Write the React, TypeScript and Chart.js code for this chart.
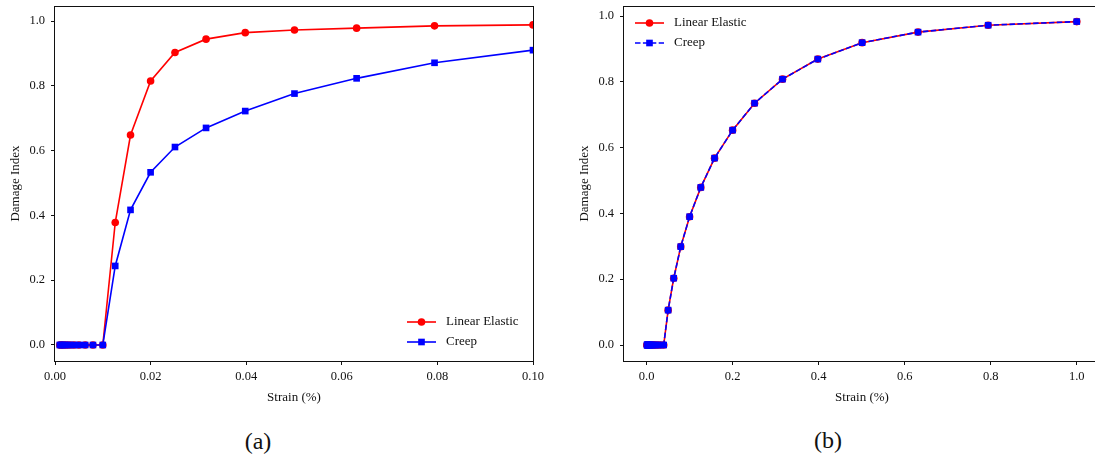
import React, { useEffect, useRef } from "react";
import { Chart, registerables } from "chart.js";

Chart.register(...registerables);

const SERIF = "'Liberation Serif', 'Times New Roman', Times, serif";
const INK = "#111";

// Panel (a): strain (%) against damage index
const strainA = [
  0.001, 0.00126, 0.00158, 0.002, 0.00251, 0.00316, 0.00398, 0.00501, 0.00631, 0.00794, 0.01,
  0.0126, 0.0158, 0.02, 0.0251, 0.0316, 0.0398, 0.0501, 0.0631, 0.0794, 0.1,
];
const linearElasticA = [
  0, 0, 0, 0, 0, 0, 0, 0, 0, 0, 0,
  0.378, 0.648, 0.815, 0.903, 0.944, 0.964, 0.972, 0.978, 0.985, 0.988,
];
const creepA = [
  0, 0, 0, 0, 0, 0, 0, 0, 0, 0, 0,
  0.244, 0.417, 0.533, 0.611, 0.67, 0.722, 0.776, 0.823, 0.871, 0.91,
];
const xTicksA = [0, 0.02, 0.04, 0.06, 0.08, 0.1];

// Panel (b): strain (%) against damage index
const strainB = [
  0.001, 0.00126, 0.00158, 0.002, 0.00251, 0.00316, 0.00398, 0.00501, 0.00631, 0.00794,
  0.01, 0.0126, 0.0158, 0.02, 0.0251, 0.0316, 0.0398, 0.0501, 0.0631, 0.0794,
  0.1, 0.126, 0.158, 0.2, 0.251, 0.316, 0.398, 0.501, 0.631, 0.794, 1.0,
];
const linearElasticB = [
  0, 0, 0, 0, 0, 0, 0, 0, 0, 0,
  0, 0, 0, 0, 0, 0, 0, 0.106, 0.203, 0.299,
  0.39, 0.479, 0.568, 0.653, 0.735, 0.808, 0.869, 0.919, 0.951, 0.972, 0.983,
];
const creepB = [
  0, 0, 0, 0, 0, 0, 0, 0, 0, 0,
  0, 0, 0, 0, 0, 0, 0, 0.106, 0.203, 0.299,
  0.39, 0.479, 0.568, 0.653, 0.735, 0.808, 0.869, 0.919, 0.951, 0.972, 0.983,
];
const xTicksB = [0, 0.2, 0.4, 0.6, 0.8, 1.0];

const yTicks = [0, 0.2, 0.4, 0.6, 0.8, 1.0];
const seriesNames = ["Linear Elastic", "Creep"];
const panelLabels = ["(a)", "(b)"];

function drawMarker(ctx: CanvasRenderingContext2D, style: string, r: number, x: number, y: number, color: string) {
  ctx.fillStyle = color;
  ctx.beginPath();
  if (style === "rect") {
    const h = Math.SQRT1_2 * r;
    ctx.rect(x - h, y - h, 2 * h, 2 * h);
  } else {
    ctx.arc(x, y, r, 0, Math.PI * 2);
  }
  ctx.fill();
}

// Legend drawn inside the plot area with line + marker samples
const markerLegend = {
  id: "markerLegend",
  afterDraw(chart: any, _args: any, opts: any) {
    const { ctx, chartArea } = chart;
    const x0 = opts.corner === "bottom-right" ? chartArea.right + opts.dx : chartArea.left + opts.dx;
    const y0 = opts.corner === "bottom-right" ? chartArea.bottom + opts.dy : chartArea.top + opts.dy;
    chart.data.datasets.forEach((ds: any, i: number) => {
      const y = y0 + i * opts.rowGap;
      ctx.save();
      ctx.strokeStyle = ds.borderColor;
      ctx.lineWidth = ds.borderWidth;
      ctx.setLineDash(ds.borderDash || []);
      ctx.beginPath();
      ctx.moveTo(x0, y);
      ctx.lineTo(x0 + opts.lineLen, y);
      ctx.stroke();
      ctx.setLineDash([]);
      drawMarker(ctx, ds.pointStyle, ds.pointRadius, x0 + opts.lineLen / 2, y, ds.pointBackgroundColor);
      ctx.fillStyle = INK;
      ctx.font = `13px ${SERIF}`;
      ctx.textBaseline = "middle";
      ctx.textAlign = "left";
      ctx.fillText(ds.label, x0 + opts.lineLen + opts.textGap, y);
      ctx.restore();
    });
  },
};

// Box around the plot area
const frame = {
  id: "frame",
  afterDatasetsDraw(chart: any) {
    const { ctx, chartArea } = chart;
    ctx.save();
    ctx.strokeStyle = INK;
    ctx.lineWidth = 1;
    const l = Math.floor(chartArea.left) - 0.5;
    const t = Math.floor(chartArea.top) + 0.5;
    const r = Math.floor(chartArea.right) + 0.5;
    const b = Math.floor(chartArea.bottom) + 0.5;
    ctx.strokeRect(l, t, r - l, b - t);
    ctx.restore();
  },
};

function series(xs: number[], ys: number[]) {
  return xs.map((x, i) => ({ x, y: ys[i] }));
}

type PanelSpec = {
  xs: number[];
  elastic: number[];
  creep: number[];
  xMin: number;
  xMax: number;
  xTicks: number[];
  xDigits: number;
  yMin: number;
  yMax: number;
  yAxisWidth: number;
  yTitlePad: number;
  padRight: number;
  creepDash: number[];
  legend: { corner: string; dx: number; dy: number };
};

function buildConfig(p: PanelSpec): any {
  const tickFont = { family: SERIF, size: 12.5 };
  const titleFont = { family: SERIF, size: 13 };
  return {
    type: "line",
    data: {
      datasets: [
        {
          label: seriesNames[0],
          data: series(p.xs, p.elastic),
          borderColor: "#ff0000",
          backgroundColor: "#ff0000",
          pointBackgroundColor: "#ff0000",
          borderWidth: 1.6,
          pointStyle: "circle",
          pointRadius: 3.8,
          pointBorderWidth: 0,
          order: 1,
          clip: 0,
        },
        {
          label: seriesNames[1],
          data: series(p.xs, p.creep),
          borderColor: "#0000ff",
          backgroundColor: "#0000ff",
          pointBackgroundColor: "#0000ff",
          borderWidth: 1.6,
          borderDash: p.creepDash,
          pointStyle: "rect",
          pointRadius: 4.7,
          pointBorderWidth: 0,
          order: 0,
          clip: 0,
        },
      ],
    },
    options: {
      responsive: false,
      animation: false,
      devicePixelRatio: 1,
      layout: { padding: { top: 6, right: p.padRight, left: 0, bottom: 0 } },
      plugins: {
        legend: { display: false },
        tooltip: { enabled: false },
        markerLegend: { ...p.legend, rowGap: 20, lineLen: 29, textGap: 10 },
      },
      scales: {
        x: {
          type: "linear",
          min: p.xMin,
          max: p.xMax,
          afterBuildTicks: (axis: any) => {
            axis.ticks = p.xTicks.map((v) => ({ value: v }));
          },
          afterFit: (axis: any) => {
            axis.height = 48;
            axis.paddingLeft = 0;
            axis.paddingRight = 0;
          },
          ticks: {
            autoSkip: false,
            maxRotation: 0,
            padding: 4,
            color: INK,
            font: tickFont,
            callback: (v: any) => Number(v).toFixed(p.xDigits),
          },
          grid: { display: true, drawOnChartArea: false, drawTicks: true, tickLength: 4, tickColor: INK, tickWidth: 1 },
          border: { display: false },
          title: { display: true, text: "Strain (%)", color: INK, font: titleFont, padding: { top: 4, bottom: 4 } },
        },
        y: {
          type: "linear",
          min: p.yMin,
          max: p.yMax,
          afterBuildTicks: (axis: any) => {
            axis.ticks = yTicks.map((v) => ({ value: v }));
          },
          afterFit: (axis: any) => {
            axis.width = p.yAxisWidth;
            axis.paddingTop = 0;
            axis.paddingBottom = 0;
          },
          ticks: {
            padding: 6,
            color: INK,
            font: tickFont,
            callback: (v: any) => Number(v).toFixed(1),
          },
          grid: { display: true, drawOnChartArea: false, drawTicks: true, tickLength: 4, tickColor: INK, tickWidth: 1 },
          border: { display: false },
          title: { display: true, text: "Damage Index", color: INK, font: titleFont, padding: { top: p.yTitlePad, bottom: 4 } },
        },
      },
    },
    plugins: [frame, markerLegend],
  };
}

function ChartPanel({ left, width, height, spec }: { left: number; width: number; height: number; spec: PanelSpec }) {
  const ref = useRef<HTMLCanvasElement | null>(null);
  useEffect(() => {
    if (!ref.current) return;
    const chart = new Chart(ref.current, buildConfig(spec));
    return () => chart.destroy();
  }, [spec]);
  return (
    <canvas
      ref={ref}
      width={width}
      height={height}
      style={{ position: "absolute", left, top: 0, width, height, display: "block" }}
    />
  );
}

const panelA: PanelSpec = {
  xs: strainA,
  elastic: linearElasticA,
  creep: creepA,
  xMin: 0,
  xMax: 0.1,
  xTicks: xTicksA,
  xDigits: 2,
  yMin: -0.0494,
  yMax: 1.0463,
  yAxisWidth: 55,
  yTitlePad: 8,
  padRight: 12,
  creepDash: [],
  legend: { corner: "bottom-right", dx: -126, dy: -39 },
};

const panelB: PanelSpec = {
  xs: strainB,
  elastic: linearElasticB,
  creep: creepB,
  xMin: -0.0525,
  xMax: 1.054,
  xTicks: xTicksB,
  xDigits: 1,
  yMin: -0.0486,
  yMax: 1.0304,
  yAxisWidth: 54,
  yTitlePad: 7,
  padRight: 10,
  creepDash: [5.5, 2.4],
  legend: { corner: "top-left", dx: 11, dy: 17 },
};

const captionStyle: React.CSSProperties = {
  position: "absolute",
  width: 100,
  textAlign: "center",
  fontFamily: SERIF,
  fontSize: 24,
  lineHeight: "24px",
  color: INK,
};

export default function App() {
  return (
    <div
      style={{
        position: "fixed",
        left: 0,
        top: 0,
        width: 1095,
        height: 457,
        overflow: "hidden",
        background: "#fff",
      }}
    >
      <ChartPanel left={0} width={545} height={409} spec={panelA} />
      <ChartPanel left={570} width={540} height={409} spec={panelB} />
      <div style={{ ...captionStyle, left: 208, top: 429 }}>{panelLabels[0]}</div>
      <div style={{ ...captionStyle, left: 778, top: 428 }}>{panelLabels[1]}</div>
    </div>
  );
}
